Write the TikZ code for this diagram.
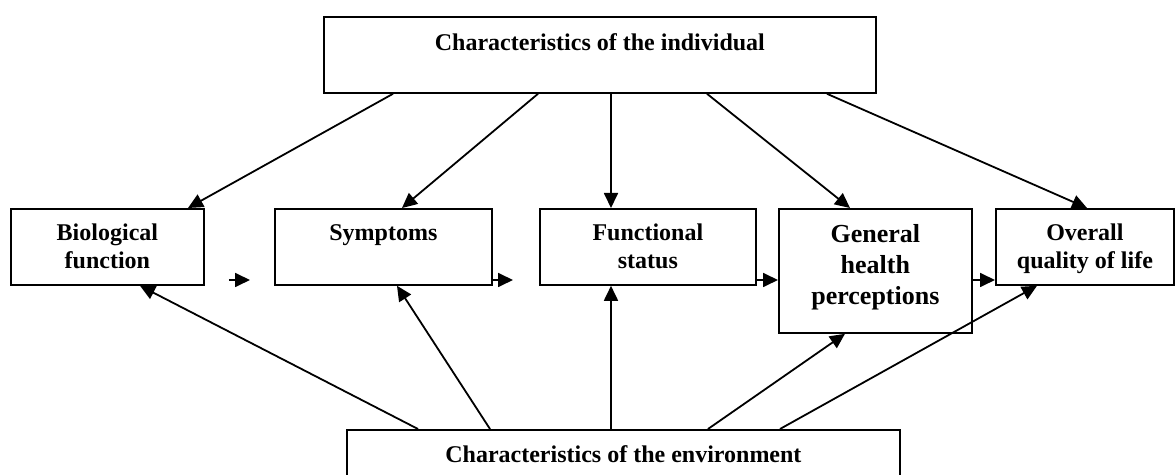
\documentclass[tikz,border=0pt]{standalone}
\usepackage{fontspec}
\setmainfont{Liberation Serif}
\usetikzlibrary{arrows.meta}
\begin{document}
\begin{tikzpicture}[x=0.5pt,y=-0.5pt,
  box/.style={draw,line width=0.9pt,inner xsep=0pt,inner ysep=0pt,anchor=north west,
              align=center,font=\fontsize{12}{14}\selectfont\bfseries},
  arr/.style={-{Triangle[length=7.5pt,width=7pt]},line width=0.9pt}]
  \clip (0,0) rectangle (1175,475);
  \coordinate (row) at (0,280);
  % outer factors
  \node[box,minimum width=276pt,text height=17pt,text depth=21pt] (indiv) at (323,16) {Characteristics of the individual};
  \node[box,minimum width=276.5pt,text height=16.5pt,text depth=19pt] (env) at (346,429) {Characteristics of the environment};
  % outcome chain
  \node[box,minimum width=96.5pt,text height=30pt,text depth=8pt] (bio) at (10,208) {Biological\\function};
  \node[box,minimum width=108.5pt,text height=16pt,text depth=22pt] (symp) at (274,208) {Symptoms};
  \node[box,minimum width=108pt,text height=30pt,text depth=8pt] (func) at (539,208) {Functional\\status};
  \node[box,minimum width=96.5pt,text height=48pt,text depth=14pt,
        font=\fontsize{13}{15.5}\selectfont\bfseries] (gen) at (778,208) {General\\health\\perceptions};
  \node[box,minimum width=89pt,text height=30pt,text depth=8pt] (overall) at (995,208) {Overall\\quality of life};
  \draw[arr] (indiv.south -| 393,0) -- (bio.north -| 188,0);
  \draw[arr] (indiv.south -| 538,0) -- (symp.north -| 402,0);
  \draw[arr] (indiv.south -| 611,0) -- (func.north -| 611,0);
  \draw[arr] (indiv.south -| 707,0) -- (gen.north -| 850,0);
  \draw[arr] (indiv.south -| 827,0) -- (overall.north -| 1087,0);
  \draw[arr] (env.north -| 418,0) -- (bio.south -| 140,0);
  \draw[arr] (env.north -| 490,0) -- (symp.south -| 397,0);
  \draw[arr] (env.north -| 611,0) -- (func.south -| 611,0);
  \draw[arr] (env.north -| 708,0) -- (gen.south -| 845,0);
  \draw[arr] (env.north -| 780,0) -- (overall.south -| 1037,0);
  \draw[arr,shorten <=12pt,shorten >=12pt] (bio.east |- row) -- (symp.west |- row);
  \draw[arr,shorten >=13pt] (symp.east |- row) -- (func.west |- row);
  \draw[arr] (func.east |- row) -- (gen.west |- row);
  \draw[arr] (gen.east |- row) -- (overall.west |- row);
\end{tikzpicture}
\end{document}
